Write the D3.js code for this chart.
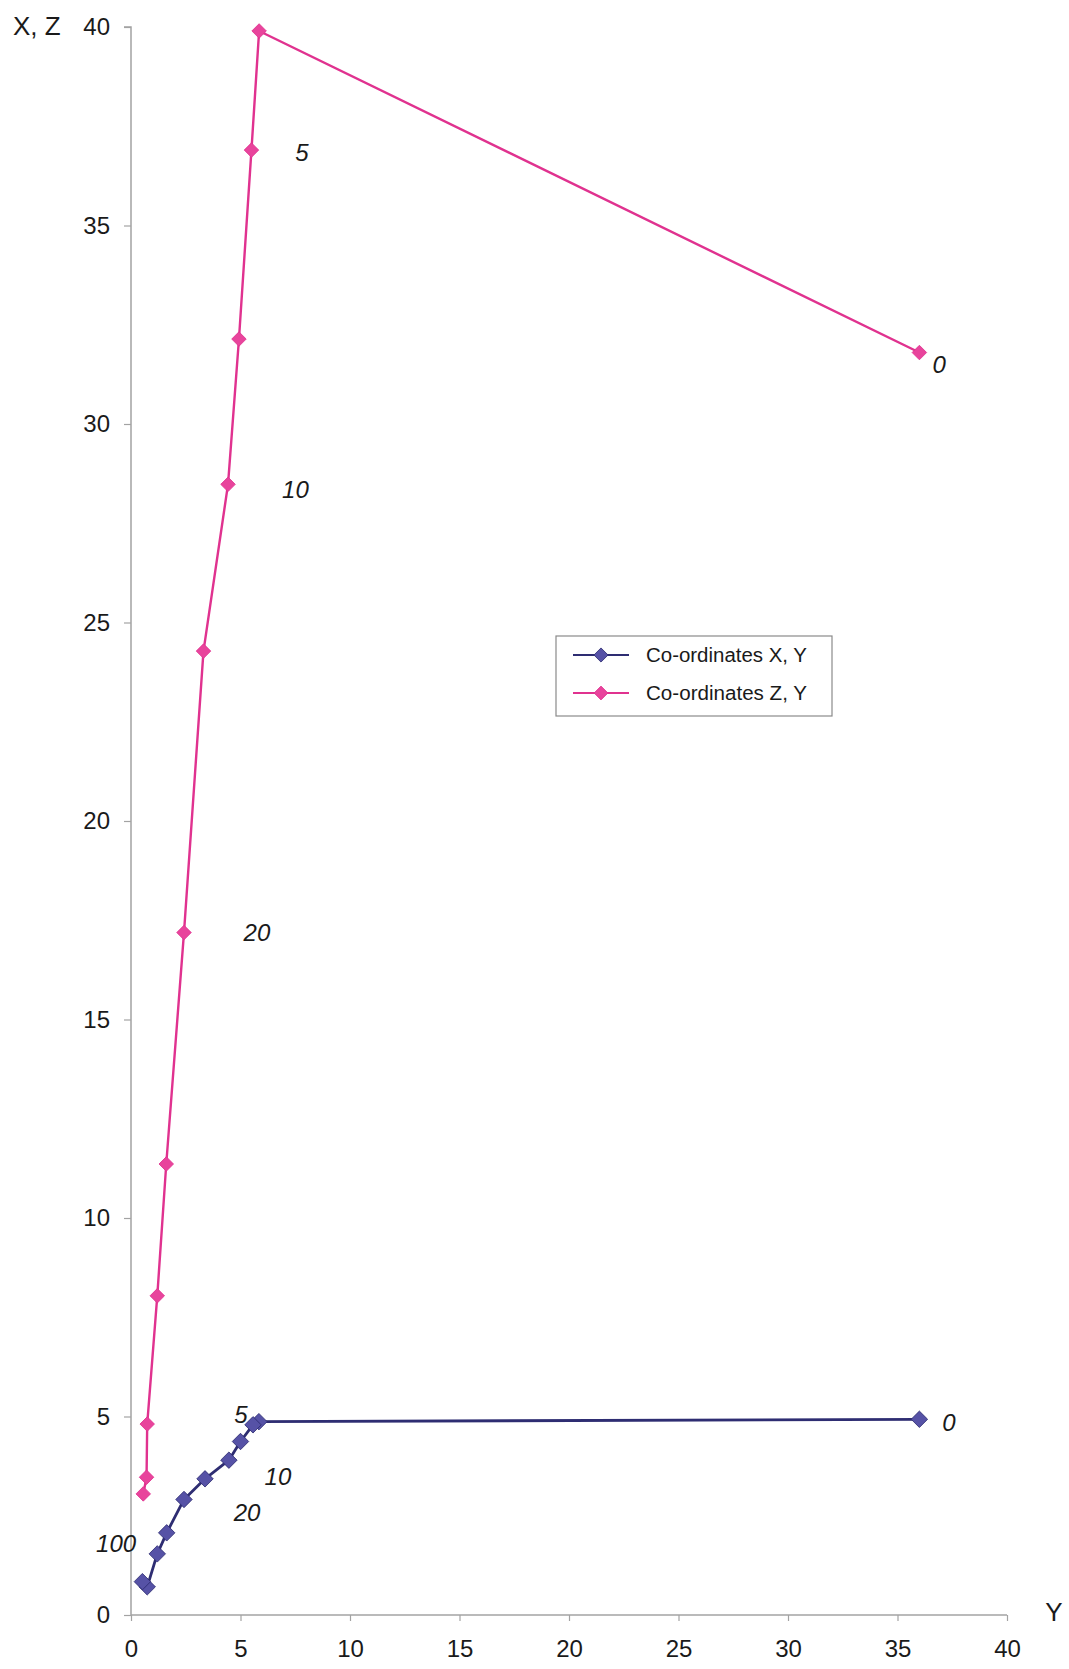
<!DOCTYPE html>
<html>
<head>
<meta charset="utf-8">
<script src="https://cdn.jsdelivr.net/npm/d3@7"></script>
<style>
  html, body { margin: 0; padding: 0; background: #fff; }
  svg { display: block; }
</style>
</head>
<body>
<svg id="chart" width="1069" height="1669"></svg>
<script>
// ---- Data ----
// Series "Co-ordinates X, Y": horizontal = Y, vertical = X
const xySeriesY = [36, 5.84, 5.57, 5.0, 4.47, 3.38, 2.42, 1.63, 1.2, 0.74, 0.52];
const xySeriesX = [4.93, 4.87, 4.79, 4.37, 3.9, 3.43, 2.91, 2.07, 1.54, 0.71, 0.84];
// Series "Co-ordinates Z, Y": horizontal = Y, vertical = Z
const zySeriesY = [36, 5.85, 5.5, 4.93, 4.43, 3.31, 2.42, 1.61, 1.2, 0.74, 0.71, 0.56];
const zySeriesZ = [31.8, 39.9, 36.9, 32.14, 28.48, 24.28, 17.19, 11.36, 8.04, 4.81, 3.47, 3.05];

const seriesNames = ["Co-ordinates X, Y", "Co-ordinates Z, Y"];
const xTickValues = [0, 5, 10, 15, 20, 25, 30, 35, 40];
const yTickValues = [0, 5, 10, 15, 20, 25, 30, 35, 40];
const xAxisTitle = "Y";
const yAxisTitle = "X, Z";

// point annotations (text, position in data units)
const zyLabelText = ["5", "10", "20", "0"];
const zyLabelY = [7.81, 7.51, 5.75, 36.9];
const zyLabelZ = [36.83, 28.35, 17.2, 31.51];
const xyLabelText = ["5", "10", "20", "100", "0"];
const xyLabelY = [5.02, 6.71, 5.3, -0.68, 37.35];
const xyLabelX = [5.06, 3.48, 2.59, 1.81, 4.84];

// ---- Layout ----
const svg = d3.select("#chart");
const plotLeft = 131, plotRight = 1007, plotTop = 27, plotBottom = 1615;
const x = d3.scaleLinear().domain([0, 40]).range([plotLeft, plotRight]);
const y = d3.scaleLinear().domain([0, 40]).range([plotBottom, plotTop]);

const axisColor = "#a3a3a3";
const textColor = "#1a1a1a";
const fontFamily = "Arial, 'Liberation Sans', Helvetica, sans-serif";
const pinkLine = "#e0328f", pinkMark = "#e8449c";
const blueLine = "#2e2d72", blueMark = "#5652a6";

// Axes
const gx = svg.append("g").attr("transform", `translate(0,${plotBottom})`)
  .call(d3.axisBottom(x).tickValues(xTickValues).tickSize(6).tickPadding(19).tickFormat(d3.format("d")));
const gy = svg.append("g").attr("transform", `translate(${plotLeft},0)`)
  .call(d3.axisLeft(y).tickValues(yTickValues).tickSize(7).tickPadding(14).tickFormat(d3.format("d")));
[gx, gy].forEach(g => {
  g.select(".domain").attr("stroke", axisColor).attr("stroke-width", 1.5);
  g.selectAll(".tick line").attr("stroke", axisColor).attr("stroke-width", 1.2);
  g.selectAll(".tick text").attr("fill", textColor).style("font-size", "24px").style("font-family", fontFamily);
});
gy.select(".domain").attr("d", `M-7,${plotTop}H0V${plotBottom}`);
gx.select(".domain").attr("d", `M${plotLeft},0H${plotRight}`);

// Axis titles
svg.append("text").attr("x", 13).attr("y", 35).text(yAxisTitle)
  .attr("fill", textColor).style("font-size", "26px").style("font-family", fontFamily);
svg.append("text").attr("x", 1054).attr("y", 1621).attr("text-anchor", "middle").text(xAxisTitle)
  .attr("fill", textColor).style("font-size", "26px").style("font-family", fontFamily);

// Lines
const line = d3.line().x(d => x(d[0])).y(d => y(d[1]));
const zyData = zySeriesY.map((v, i) => [v, zySeriesZ[i]]);
const xyData = xySeriesY.map((v, i) => [v, xySeriesX[i]]);

function drawSeries(data, lc, mc, lw, msize) {
  svg.append("path").datum(data).attr("d", line)
    .attr("fill", "none").attr("stroke", lc).attr("stroke-width", lw).attr("stroke-linejoin", "round");
  svg.append("g").selectAll("path").data(data).join("path")
    .attr("d", d3.symbol().type(d3.symbolSquare).size(msize))
    .attr("transform", d => `translate(${x(d[0])},${y(d[1])}) rotate(45)`)
    .attr("fill", mc).attr("stroke", lc).attr("stroke-width", 0.8);
}
drawSeries(zyData, pinkLine, pinkMark, 2.4, 105);
drawSeries(xyData, blueLine, blueMark, 2.8, 135);

// Annotations
function drawLabels(texts, xs, ys) {
  svg.append("g").selectAll("text").data(texts).join("text")
    .attr("x", (d, i) => x(xs[i])).attr("y", (d, i) => y(ys[i]))
    .attr("text-anchor", "middle").attr("dy", "0.36em")
    .attr("fill", textColor).style("font-size", "24px").style("font-style", "italic")
    .style("font-family", fontFamily).text(d => d);
}
drawLabels(zyLabelText, zyLabelY, zyLabelZ);
drawLabels(xyLabelText, xyLabelY, xyLabelX);

// Legend
const lg = svg.append("g").attr("transform", "translate(556,636)");
lg.append("rect").attr("width", 276).attr("height", 80)
  .attr("fill", "#fff").attr("stroke", "#8a8a8a").attr("stroke-width", 1.2);
const legendItems = [
  { name: seriesNames[0], lc: blueLine, mc: blueMark, lw: 2.2, ms: 100 },
  { name: seriesNames[1], lc: pinkLine, mc: pinkMark, lw: 2, ms: 95 }
];
legendItems.forEach((it, i) => {
  const cy = 19 + i * 38;
  lg.append("line").attr("x1", 17).attr("x2", 73).attr("y1", cy).attr("y2", cy)
    .attr("stroke", it.lc).attr("stroke-width", it.lw);
  lg.append("path").attr("d", d3.symbol().type(d3.symbolSquare).size(it.ms))
    .attr("transform", `translate(45,${cy}) rotate(45)`)
    .attr("fill", it.mc).attr("stroke", it.lc).attr("stroke-width", 0.8);
  lg.append("text").attr("x", 90).attr("y", cy).attr("dy", "0.35em")
    .attr("fill", textColor).style("font-size", "20px").style("font-family", fontFamily)
    .attr("textLength", 161).attr("lengthAdjust", "spacingAndGlyphs")
    .text(it.name);
});
</script>
</body>
</html>
